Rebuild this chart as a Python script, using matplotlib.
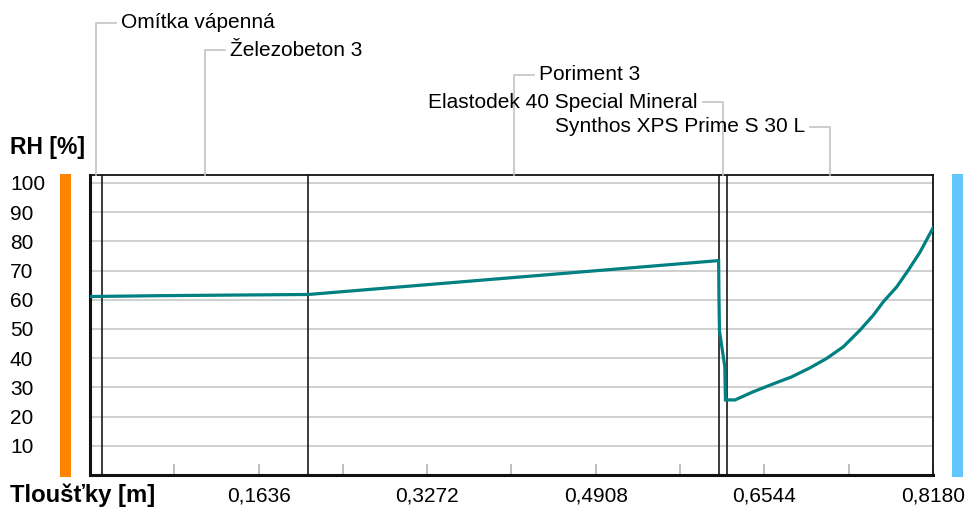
##########################################################
# Housekeeping
##########################################################

import numpy as np
import matplotlib
matplotlib.use('Agg')
import matplotlib.pyplot as plt
from matplotlib.lines import Line2D
from matplotlib.patches import Rectangle

plt.rcParams['font.family'] = ['Liberation Sans', 'DejaVu Sans']

##########################################################
# Data
##########################################################

# Layers of the construction (interior -> exterior) and their thickness [m]
layers = ['Omítka vápenná', 'Železobeton 3', 'Poriment 3',
          'Elastodek 40 Special Mineral', 'Synthos XPS Prime S 30 L']
thickness = [0.012, 0.200, 0.398, 0.008, 0.200]

# Relative humidity profile through the wall
pos = [0.000, 0.070, 0.212, 0.610, 0.6103, 0.6108, 0.6160, 0.6166,
       0.6259, 0.6436, 0.6630, 0.6809, 0.6987, 0.7148, 0.7310,
       0.7472, 0.7601, 0.7698, 0.7828, 0.7940, 0.8054, 0.8167, 0.818]
rh = [61.1, 61.4, 61.8, 73.4, 61.0, 49.3, 37.0, 25.7,
      25.7, 28.5, 31.2, 33.6, 36.7, 39.9, 43.9,
      49.6, 54.7, 59.3, 64.4, 70.1, 76.3, 83.7, 84.6]

rh_ticks = [10, 20, 30, 40, 50, 60, 70, 80, 90, 100]

##########################################################
# Figure setup
##########################################################

W, H = 969, 507
fig = plt.figure(figsize=(W / 100, H / 100), dpi=100)
ax = fig.add_axes([90 / W, (H - 475) / H, (933 - 90) / W, (475 - 175) / H])

bounds = np.concatenate([[0], np.cumsum(thickness)])
total = bounds[-1]
ax.set_xlim(0, total)
ax.set_ylim(0, 102.7)

# Horizontal grid
ax.set_yticks(rh_ticks)
ax.set_yticklabels([str(v) for v in rh_ticks])
ax.yaxis.grid(True, color='#cfcfcf', lw=1.4)
ax.set_axisbelow(True)
ax.tick_params(axis='y', length=0, pad=57.6, labelsize=15)
for lab in ax.get_yticklabels():
    lab.set_horizontalalignment('left')

# Thickness axis: labelled ticks every fifth, plain ticks in between
major = total / 5 * np.arange(1, 6)
minor = total / 10 * np.arange(1, 10, 2)
ax.set_xticks(major)
ax.set_xticklabels([f'{v:.4f}'.replace('.', ',') for v in major])
ax.set_xticks(minor, minor=True)
ax.tick_params(axis='x', which='both', direction='in', length=8,
               width=1.2, color='#b4b4b4', pad=8, labelsize=15)

# Frame
for side, lw in [('left', 2.2), ('bottom', 2.2), ('top', 1.3), ('right', 1.3)]:
    ax.spines[side].set_linewidth(lw)
    ax.spines[side].set_color('#111111')

# Layer interfaces
for b in bounds[1:-1]:
    ax.axvline(b, color='#1a1a1a', lw=1.2, zorder=2)

# RH curve
ax.plot(pos, rh, color='#008080', lw=2.3, zorder=3, solid_joinstyle='miter')

##########################################################
# Layer labels with leader lines
##########################################################

levels = [23, 50, 75, 102, 127]
sides = ['right', 'right', 'right', 'left', 'left']
top_px = 175
for name, lo, hi, lvl, side in zip(layers, bounds[:-1], bounds[1:], levels, sides):
    xc = ax.transData.transform(((lo + hi) / 2, 0))[0]
    sgn = 1 if side == 'right' else -1
    xs = [xc, xc, xc + sgn * 20]
    ys = [top_px, lvl, lvl]
    fig.add_artist(Line2D([x / W for x in xs], [1 - y / H for y in ys],
                          transform=fig.transFigure, color='#c4c4c4', lw=1.2))
    fig.text((xc + sgn * 25) / W, 1 - lvl / H, name, fontsize=15,
             ha='left' if side == 'right' else 'right', va='center')

##########################################################
# Axis titles and boundary bars
##########################################################

fig.text(10 / W, 1 - 148 / H, 'RH [%]', fontsize=16.5, fontweight='bold',
         ha='left', va='center')
fig.text(10 / W, 1 - 495 / H, 'Tloušťky [m]', fontsize=17.2, fontweight='bold',
         ha='left', va='center')

fig.add_artist(Rectangle((60 / W, 1 - 477 / H), 11 / W, 303 / H,
                         transform=fig.transFigure, color='#ff8400', lw=0))
fig.add_artist(Rectangle((952 / W, 1 - 477 / H), 11 / W, 303 / H,
                         transform=fig.transFigure, color='#62c6ff', lw=0))

plt.savefig('out.png', dpi=100)
